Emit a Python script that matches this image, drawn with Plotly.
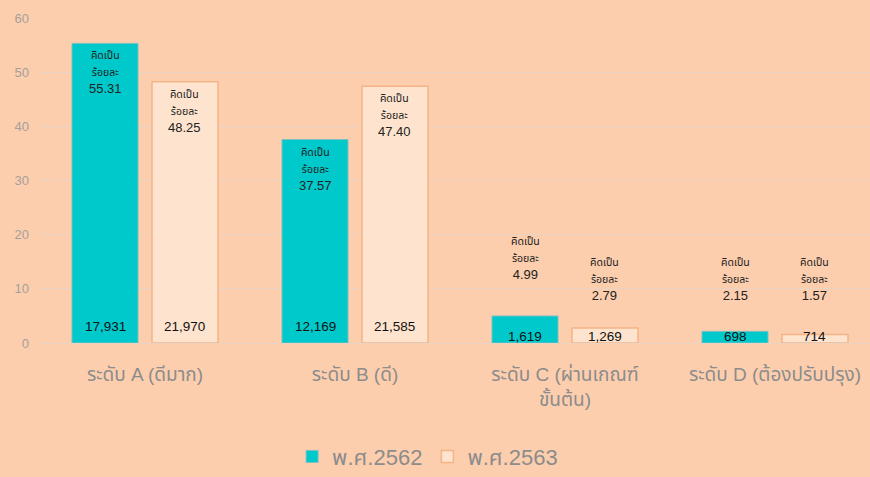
import plotly.graph_objects as go

categories = ["ระดับ A (ดีมาก)", "ระดับ B (ดี)", "ระดับ C (ผ่านเกณฑ์<br>ขั้นต้น)", "ระดับ D (ต้องปรับปรุง)"]
series_names = ["พ.ศ.2562", "พ.ศ.2563"]
pct_2562 = [55.31, 37.57, 4.99, 2.15]
pct_2563 = [48.25, 47.40, 2.79, 1.57]
count_2562 = ["17,931", "12,169", "1,619", "698"]
count_2563 = ["21,970", "21,585", "1,269", "714"]
y_ticks = [0, 10, 20, 30, 40, 50, 60]

# label styling (pixel gaps above short bars)
label_gap = [[0, 0, 32, 26], [0, 0, 23, 30]]

FONT = "Liberation Sans, Arial, Noto Sans Thai, sans-serif"
BG = "#FCCEAD"
TEAL = "#00C9CB"
PALE = "#FEE4CE"

fig = go.Figure()
fig.add_trace(go.Bar(name=series_names[0], x=categories, y=pct_2562,
                     marker=dict(color=TEAL, line=dict(color="#7FBFC0", width=1)),
                     hoverinfo="skip"))
fig.add_trace(go.Bar(name=series_names[1], x=categories, y=pct_2563,
                     marker=dict(color=PALE, line=dict(color="#F4B487", width=1.5)),
                     hoverinfo="skip"))

bar_off = [-0.19, 0.19]
annotations = []
for s, (pcts, counts) in enumerate([(pct_2562, count_2562), (pct_2563, count_2563)]):
    for i, (p, c) in enumerate(zip(pcts, counts)):
        txt = "<span style='font-size:10.5px'>คิดเป็น<br>ร้อยละ</span><br>%.2f" % p
        if p > 20:
            annotations.append(dict(x=i + bar_off[s], y=p, xref="x", yref="y", text=txt,
                                    showarrow=False, yanchor="top", yshift=-4,
                                    font=dict(size=13, color="#222", family=FONT)))
        else:
            annotations.append(dict(x=i + bar_off[s], y=p, xref="x", yref="y",
                                    text=txt, showarrow=False, yanchor="bottom",
                                    yshift=label_gap[s][i],
                                    font=dict(size=13, color="#222", family=FONT)))
        annotations.append(dict(x=i + bar_off[s], y=0, xref="x", yref="y", text=c,
                                showarrow=False, yanchor="bottom", yshift=(7 if p > 20 else -3),
                                font=dict(size=13.5, color="#111", family=FONT)))

fig.update_layout(
    width=870, height=477,
    paper_bgcolor=BG, plot_bgcolor=BG,
    margin=dict(l=40, r=0, t=18, b=134, autoexpand=False),
    barmode="group", bargap=0.238, bargroupgap=0.175,
    font=dict(family=FONT, color="#8C8C8C"),
    annotations=annotations,
    showlegend=True,
    legend=dict(orientation="h", x=0.467, xanchor="center", y=-0.285, yanchor="top",
                font=dict(size=22, color="#8C8C8C", family=FONT), itemwidth=30,
                bgcolor="rgba(0,0,0,0)"),
)
fig.update_xaxes(range=[-0.5, 3.5 - 10 / 210], tickfont=dict(size=19, color="#8C8C8C", family=FONT),
                 showline=False, ticks="", showgrid=False, ticklabelstandoff=18)
fig.update_yaxes(range=[0, 60], tickvals=y_ticks, showgrid=True, gridcolor="#EBD3C3", gridwidth=1,
                 zeroline=True, zerolinecolor="#EBD3C3", zerolinewidth=1,
                 tickfont=dict(size=13, color="#A5A09C", family=FONT), ticklabelstandoff=10)

fig.write_html("out.html", config={"displayModeBar": False},
               post_script="document.body.style.margin='0';document.body.style.overflow='hidden';")
